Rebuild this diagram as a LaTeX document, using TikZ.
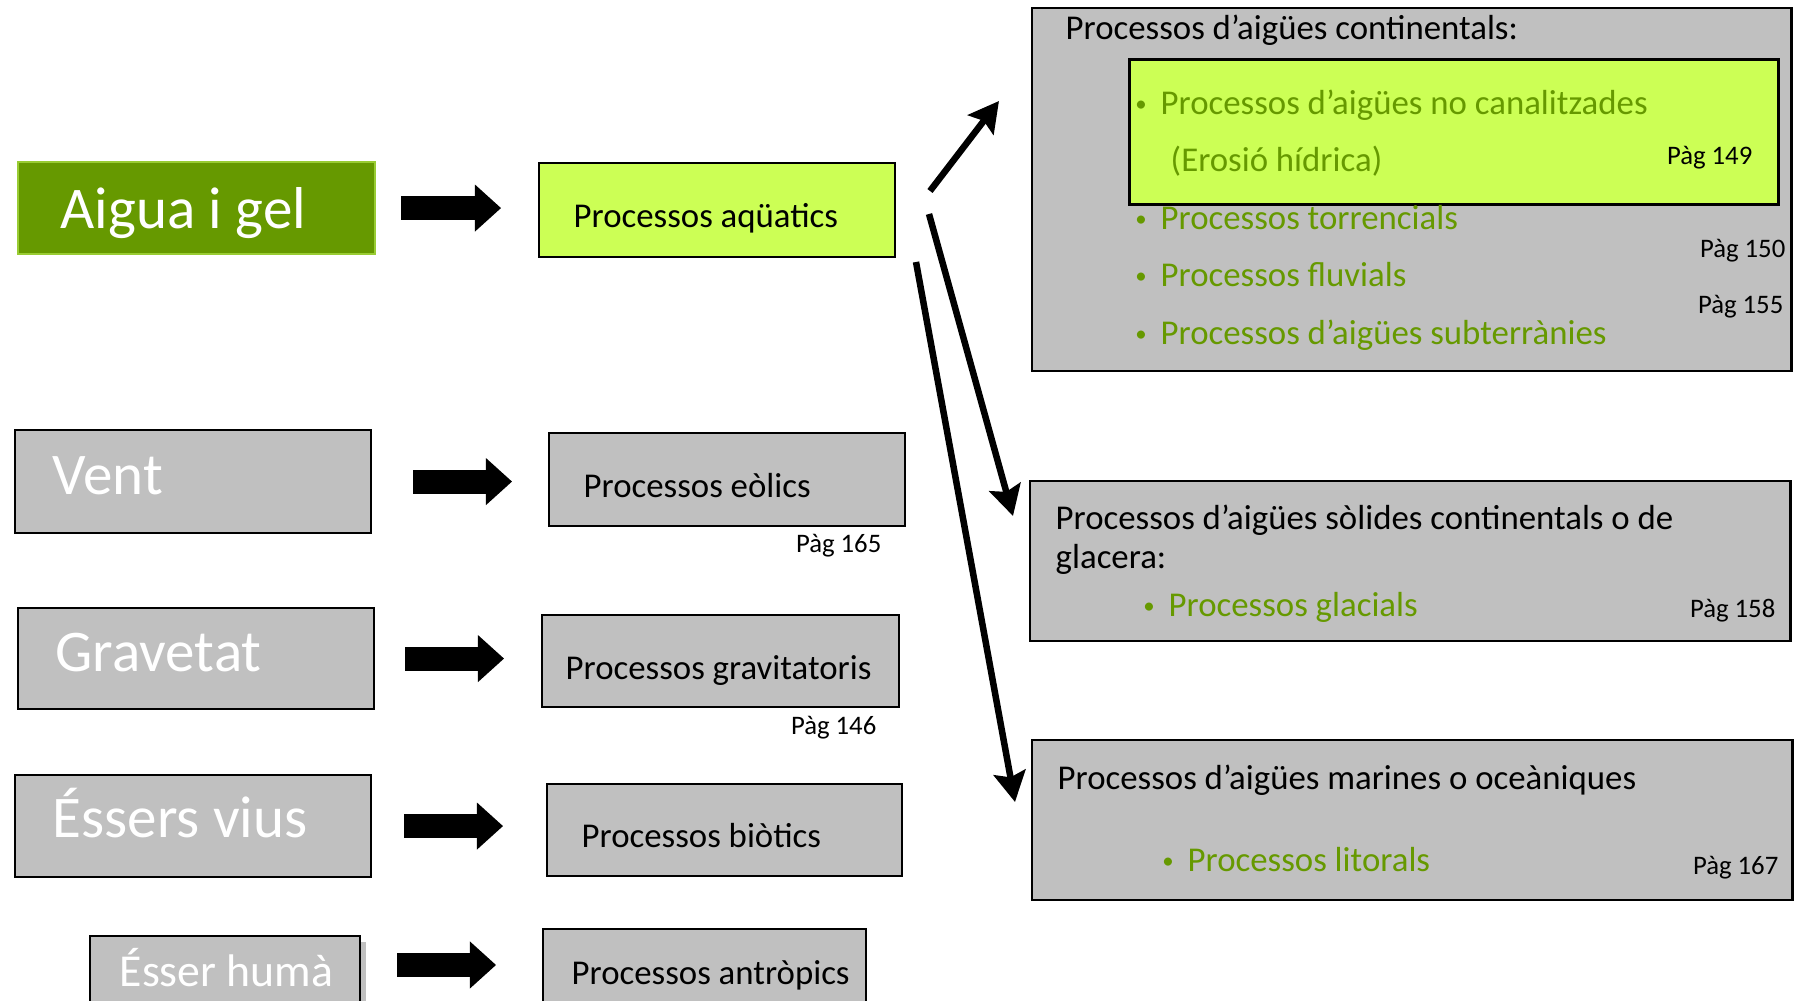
\documentclass[tikz,border=0pt]{standalone}
\usepackage{fontspec}
\setmainfont{Carlito}
\usetikzlibrary{arrows.meta,calc}
\definecolor{fosc}{RGB}{102,153,0}
\definecolor{vora}{RGB}{153,204,51}
\definecolor{llima}{RGB}{204,255,85}
\definecolor{gris}{RGB}{192,192,192}
\definecolor{verd}{RGB}{102,153,0}
\newcommand{\punt}{\llap{\raisebox{0.8pt}{\fontsize{6.5}{7}\selectfont •}\hspace{4pt}}}

\begin{document}
\begin{tikzpicture}[x=0.01cm,y=-0.01cm]
\tikzstyle{box} = [draw=black, line width=0.6pt, fill=gris, anchor=north west, inner sep=0pt]
\tikzstyle{big} = [anchor=base west, text=white, font=\fontsize{16.8}{20}\selectfont, inner sep=0pt]
\tikzstyle{mid} = [anchor=mid west, font=\fontsize{9.9}{11.1}\selectfont, inner sep=0pt]
\tikzstyle{llista} = [mid, text=verd]
\tikzstyle{pag} = [anchor=mid east, font=\fontsize{7.6}{9}\selectfont, inner sep=0pt]
\tikzstyle{blk} = [line width=0.24cm, -{Triangle[length=0.26cm 0 0, width=0.47cm 0 0, line width=0pt]}]
\tikzstyle{fil} = [line width=0.065cm, -{Stealth[length=0.3cm, width=0.32cm, inset=0.05cm]}]
\clip (0,0) rectangle (1805,1001);
\fill[white] (0,0) rectangle (1805,1001);

% agents
\node[box, fill=fosc, draw=vora, minimum width=3.57cm, minimum height=0.92cm] (agua) at (17,161) {};
\node[big] (aguaT) at (60,229) {Aigua i gel};
\node[box, minimum width=3.56cm, minimum height=1.03cm] (vent) at (14,429) {};
\node[big] (ventT) at (52,495) {Vent};
\node[box, minimum width=3.56cm, minimum height=1.01cm] (grav) at (17,607) {};
\node[big] (gravT) at (55,672) {Gravetat};
\node[box, minimum width=3.56cm, minimum height=1.02cm] (vius) at (14,774) {};
\node[big] (viusT) at (52,838) {Éssers vius};
\node[box, minimum width=2.70cm, minimum height=1.0cm] (huma) at (89,935) {};
\fill[gris] (huma.north east) ++(0,7) rectangle (366,1001);
\node[big, font=\fontsize{13}{15}\selectfont] (humaT) at (119,987) {Ésser humà};
\coordinate (humaE) at ($(huma.north east)+(0,30)$);

% processos
\node[box, fill=llima, minimum width=3.56cm, minimum height=0.94cm] (aqua) at (538,162) {};
\node[mid] (aquaT) at (573,219) {Processos aqüatics};
\node[box, minimum width=3.56cm, minimum height=0.93cm] (eol) at (548,432) {};
\node[mid] (eolT) at (583,489) {Processos eòlics};
\node[pag] (p165) at (882,544) {Pàg 165};
\node[box, minimum width=3.57cm, minimum height=0.92cm] (gravi) at (541,614) {};
\node[mid] (graviT) at (565,671) {Processos gravitatoris};
\node[pag] (p146) at (877,726) {Pàg 146};
\node[box, minimum width=3.55cm, minimum height=0.92cm] (biot) at (546,783) {};
\node[mid] (biotT) at (581,839) {Processos biòtics};
\node[box, minimum width=3.23cm, minimum height=1.0cm] (antro) at (542,928) {};
\node[mid] (antroT) at (571,976) {Processos antròpics};

\draw[blk, shorten <=0.25cm, shorten >=0.37cm] (agua.east) -- (agua.east -| aqua.west);
\draw[blk, shorten <=0.41cm, shorten >=0.36cm] (vent.east) -- (vent.east -| eol.west);
\draw[blk, shorten <=0.30cm, shorten >=0.37cm] (grav.east) -- (grav.east -| gravi.west);
\draw[blk, shorten <=0.32cm, shorten >=0.43cm] (vius.east) -- (vius.east -| biot.west);
\draw[blk, shorten <=0.36cm, shorten >=0.46cm] (humaE) -- (humaE -| antro.west);

% aigues continentals
\node[box, minimum width=7.59cm, minimum height=3.63cm] (cont) at (1031,7) {};
\node[mid] (contT) at (1065,31) {Processos d’aigües continentals:};
\node[box, fill=llima, line width=0.8pt, minimum width=6.49cm, minimum height=1.45cm] (noc) at (1128,58) {};
\node[llista] (l1) at (1160,106) {\punt Processos d’aigües no canalitzades};
\node[llista] (l2) at (1170,163) {(Erosió hídrica)};
\node[pag] (p149) at (1753,156) {Pàg 149};
\node[llista] (l3) at (1160,221) {\punt Processos torrencials};
\node[pag] (p150) at (1786,249) {Pàg 150};
\node[llista] (l4) at (1160,278) {\punt Processos fluvials};
\node[pag] (p155) at (1784,305) {Pàg 155};
\node[llista] (l5) at (1160,336) {\punt Processos d’aigües subterrànies};

% glacera
\node[box, minimum width=7.60cm, minimum height=1.60cm] (glac) at (1029,480) {};
\node[mid] (glacT) at (1055,521) {Processos d’aigües sòlides continentals o de};
\node[mid] (glacU) at (1055,560) {glacera:};
\node[llista] (l6) at (1168,608) {\punt Processos glacials};
\node[pag] (p158) at (1776,609) {Pàg 158};

% marines
\node[box, minimum width=7.60cm, minimum height=1.60cm] (mar) at (1031,739) {};
\node[mid] (marT) at (1057,781) {Processos d’aigües marines o oceàniques};
\node[llista] (l7) at (1187,863) {\punt Processos litorals};
\node[pag] (p167) at (1779,866) {Pàg 167};

\coordinate (d1a) at (930,191);
\coordinate (d1b) at (999,101);
\coordinate (d2a) at (929,214);
\coordinate (d2b) at (1013,516);
\coordinate (d3a) at (916,262);
\coordinate (d3b) at (1015,802);
\draw[fil] (d1a) -- (d1b);
\draw[fil] (d2a) -- (d2b);
\draw[fil] (d3a) -- (d3b);
\end{tikzpicture}
\end{document}
